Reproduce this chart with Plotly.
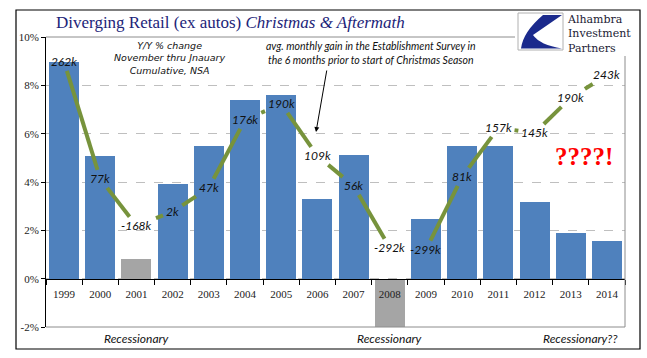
import plotly.graph_objects as go

# ---------------- data ----------------
years = ["1999", "2000", "2001", "2002", "2003", "2004", "2005", "2006",
         "2007", "2008", "2009", "2010", "2011", "2012", "2013", "2014"]
retail_yoy = [8.95, 5.08, 0.83, 3.93, 5.50, 7.40, 7.60, 3.30,
              5.12, -2.00, 2.48, 5.50, 5.47, 3.18, 1.87, 1.57]
recession_years = ["2001", "2008"]
job_gain_labels = ["262k", "77k", "-168k", "2k", "47k", "176k", "190k", "109k",
                   "56k", "-292k", "-299k", "81k", "157k", "145k", "190k", "243k"]
job_gain_level = [8.97, 4.13, 2.19, 2.77, 3.76, 6.57, 7.23, 5.08,
                  3.84, 1.28, 1.20, 4.21, 6.24, 6.03, 7.48, 8.43]
y_ticks = [-2, 0, 2, 4, 6, 8, 10]

# ---------------- layout constants ----------------
W, H = 647, 358
L, R, T, B = 46, 625, 37, 327
Y_MIN, Y_MAX = -2, 10
N = len(years)

BLUE = "#4F81BD"
GRAY = "#A5A5A5"
GREEN = "#77933C"
NAVY = "#1C2479"


def pxp(x):  # pixel -> paper x
    return (x - L) / (R - L)


def pyp(y):  # pixel -> paper y
    return (B - y) / (B - T)


def xpix(i):
    return L + (i + 0.5) * (R - L) / N


def ypix(v):
    return B - (v - Y_MIN) * (B - T) / (Y_MAX - Y_MIN)


def xdat(p):
    return (p - L) * N / (R - L) - 0.5


def ydat(p):
    return Y_MIN + (B - p) * (Y_MAX - Y_MIN) / (B - T)


idx = list(range(N))
bar_colors = [GRAY if y in recession_years else BLUE for y in years]

# line segments clipped around the labels
seg_x, seg_y = [], []
HH = 9
for i in range(N - 1):
    px0, py0 = xpix(i), ypix(job_gain_level[i])
    px1, py1 = xpix(i + 1), ypix(job_gain_level[i + 1])
    dx, dy = px1 - px0, py1 - py0
    hw0 = 3.3 * len(job_gain_labels[i]) + 3
    hw1 = 3.3 * len(job_gain_labels[i + 1]) + 3
    t0 = min(hw0 / abs(dx) if dx else 9, HH / abs(dy) if dy else 9)
    t1 = min(hw1 / abs(dx) if dx else 9, HH / abs(dy) if dy else 9)
    if t0 + t1 < 1:
        seg_x += [xdat(px0 + t0 * dx), xdat(px1 - t1 * dx), None]
        seg_y += [ydat(py0 + t0 * dy), ydat(py1 - t1 * dy), None]

fig = go.Figure()
fig.add_trace(go.Bar(x=idx, y=retail_yoy, marker=dict(color=bar_colors, line=dict(width=0)),
                     width=0.83, hoverinfo="skip"))
fig.add_trace(go.Scatter(x=seg_x, y=seg_y, mode="lines",
                         line=dict(color=GREEN, width=4), hoverinfo="skip"))


def note(x, y, text, font, xanchor="center", **kw):
    return dict(x=pxp(x), y=pyp(y), xref="paper", yref="paper", text=text,
                showarrow=False, xanchor=xanchor, yanchor="middle", font=font, **kw)


annotations = []
for i in idx:
    annotations.append(dict(x=i, y=job_gain_level[i], xref="x", yref="y",
                            text="<i>%s</i>" % job_gain_labels[i], showarrow=False,
                            xanchor="center", yanchor="middle",
                            font=dict(family="Lato", size=12, color="#111111")))

# title
annotations.append(note(230, 22, "Diverging Retail (ex autos) <i>Christmas &amp; Aftermath</i>",
                        dict(family="Liberation Serif", size=17, color=NAVY)))
# notes
annotations.append(note(170, 58, "<i>Y/Y % change<br>November thru Jnauary<br>Cumulative, NSA</i>",
                        dict(family="DejaVu Sans", size=9.5, color="#111111"), align="center"))
annotations.append(note(371, 53.5, "<i>avg. monthly gain in the Establishment Survey in<br>"
                                   "the 6 months prior to start of Christmas Season</i>",
                        dict(family="Lato", size=10.5, color="#111111"), align="center"))
annotations.append(dict(x=pxp(316), y=pyp(132), xref="paper", yref="paper",
                        ax=11, ay=-63, axref="pixel", ayref="pixel", text="",
                        showarrow=True, arrowhead=2, arrowsize=1, arrowwidth=1,
                        arrowcolor="#000000"))
annotations.append(note(584, 156, "<b>????!</b>",
                        dict(family="Liberation Sans Narrow", size=25, color="#FF0000")))
# recession notes
annotations.append(note(xpix(2), 338, "<i>Recessionary</i>",
                        dict(family="Lato", size=12, color="#111111")))
annotations.append(note(xpix(9), 338, "<i>Recessionary</i>",
                        dict(family="Lato", size=12, color="#111111")))
annotations.append(note(619, 338, "<i>Recessionary??</i>",
                        dict(family="Lato", size=12, color="#111111"), xanchor="right"))
# logo text (single block)
annotations.append(note(565, 34, "Alhambra<br>Investment<br>Partners",
                        dict(family="DejaVu Serif", size=11, color="#1a1a33"),
                        xanchor="left", align="left"))

shapes = [
    # plot border (top, right, bottom)
    dict(type="path", xref="paper", yref="paper",
         path="M 0,1 L 1,1 L 1,0 L 0,0", line=dict(color="#8C8C8C", width=1), layer="above"),
    # outer frame
    dict(type="rect", xref="paper", yref="paper", x0=pxp(16), x1=pxp(640), y0=pyp(349), y1=pyp(10),
         line=dict(color="#000000", width=1.2), layer="above"),
    # logo white background
    dict(type="rect", xref="paper", yref="paper", x0=pxp(515), x1=pxp(639), y0=pyp(56), y1=pyp(12),
         fillcolor="white", line=dict(width=0), layer="above"),
    # logo box
    dict(type="rect", xref="paper", yref="paper", x0=pxp(518), x1=pxp(563), y0=pyp(50), y1=pyp(13),
         fillcolor="white", line=dict(color="#B0B0B0", width=1), layer="above"),
    # swoosh
    dict(type="path", xref="paper", yref="paper",
         path="M %f,%f L %f,%f L %f,%f Q %f,%f %f,%f L %f,%f Q %f,%f %f,%f Z" % (
             pxp(543), pyp(15), pxp(562), pyp(15), pxp(533), pyp(35),
             pxp(540), pyp(45), pxp(562), pyp(48.5), pxp(521), pyp(48.5),
             pxp(523), pyp(32), pxp(543), pyp(15)),
         fillcolor="#1B2A8C", line=dict(width=0), layer="above"),
]

fig.update_layout(
    width=W, height=H,
    margin=dict(l=L, r=W - R, t=T, b=H - B),
    paper_bgcolor="white", plot_bgcolor="white",
    showlegend=False,
    bargap=0,
    annotations=annotations,
    shapes=shapes,
    xaxis=dict(range=[-0.5, N - 0.5], tickmode="array", tickvals=idx, ticktext=years,
               ticks="", showgrid=False, zeroline=False,
               showline=True, linecolor="#000000", linewidth=1,
               anchor="free", position=(0 - Y_MIN) / (Y_MAX - Y_MIN),
               ticklabelstandoff=5,
               tickfont=dict(family="Liberation Serif", size=11, color="#222222"),
               minor=dict(tickmode="array", tickvals=[i - 0.5 for i in range(N + 1)],
                          ticks="outside", ticklen=5, tickcolor="#000000", showgrid=False),
               fixedrange=True),
    yaxis=dict(range=[Y_MIN, Y_MAX], tickmode="array", tickvals=y_ticks,
               ticktext=["%d%%" % v for v in y_ticks],
               ticks="outside", ticklen=4, tickcolor="#000000",
               showline=True, linecolor="#000000", linewidth=1,
               showgrid=True, gridcolor="#BFBFBF", griddash="dash", gridwidth=1,
               zeroline=False,
               tickfont=dict(family="Liberation Serif", size=11, color="#222222"),
               fixedrange=True),
)

fig.write_html("out.html", config={"displayModeBar": False},
               post_script="document.body.style.margin='0px';")
